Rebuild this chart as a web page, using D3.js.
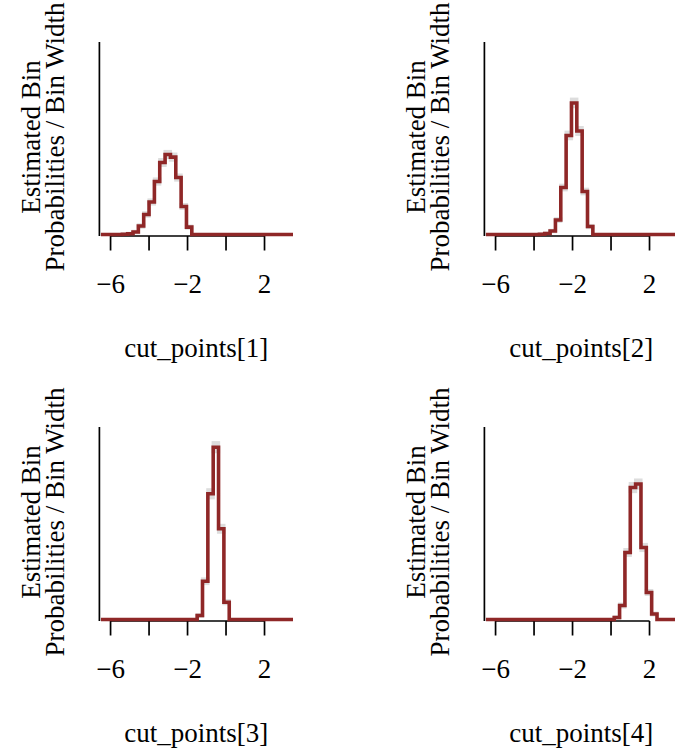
<!DOCTYPE html>
<html><head><meta charset="utf-8">
<script src="https://cdn.jsdelivr.net/npm/d3@7"></script>
<style>body{margin:0;background:#fff;overflow:hidden} svg{display:block}</style>
</head><body>
<script>
// ---- data ----
const panelNames = ["cut_points[1]", "cut_points[2]", "cut_points[3]", "cut_points[4]"];
const xTicks = [-6, -4, -2, 0, 2];
const xTickLabels = ["\u22126", "", "\u22122", "", "2"]; // overlapping labels dropped as in R
const xLimits = [-6.58, 3.48];     // plot region
const binRange = [-6.5, 3.5];      // histogram range
const binCount = 36;
const yMax = 1.545;
// estimated bin probabilities / bin width (36 bins over binRange)
const dens1 = [0,0,0,0,0.002,0.006,0.02,0.068,0.161,0.261, 0.425,0.578,0.642,0.621,0.457,0.225,0.059,0,0,0, 0,0,0,0,0,0,0,0,0,0, 0,0,0,0,0,0];
const dens2 = [0,0,0,0,0,0,0,0,0,0, 0.002,0.008,0.028,0.116,0.377,0.795,1.056,0.831,0.345,0.064, 0,0,0,0,0,0,0,0,0,0, 0,0,0,0,0,0];
const dens3 = [0,0,0,0,0,0,0,0,0,0, 0,0,0,0,0,0,0,0,0.032,0.307, 1.009,1.383,0.728,0.139,0,0,0,0,0,0, 0,0,0,0,0,0];
const dens4 = [0,0,0,0,0,0,0,0,0,0, 0,0,0,0,0,0,0,0,0,0, 0,0,0,0,0.016,0.112,0.538,1.059,1.087,0.578, 0.217,0.044,0,0,0,0];
// Monte Carlo error half-widths (grey bands)
const err1 = [0,0,0,0,0.002,0.003,0.005,0.009,0.013,0.016, 0.02,0.023,0.024,0.024,0.02,0.015,0.008,0,0,0, 0,0,0,0,0,0,0,0,0,0, 0,0,0,0,0,0];
const err2 = [0,0,0,0,0,0,0,0,0,0, 0.002,0.003,0.005,0.01,0.018,0.026,0.03,0.027,0.018,0.008, 0,0,0,0,0,0,0,0,0,0, 0,0,0,0,0,0];
const err3 = [0,0,0,0,0,0,0,0,0,0, 0,0,0,0,0,0,0,0,0.006,0.018, 0.032,0.036,0.027,0.012,0,0,0,0,0,0, 0,0,0,0,0,0];
const err4 = [0,0,0,0,0,0,0,0,0,0, 0,0,0,0,0,0,0,0,0,0, 0,0,0,0,0.004,0.011,0.023,0.032,0.032,0.024, 0.015,0.007,0,0,0,0];
const allDens = [dens1, dens2, dens3, dens4];
const allErr = [err1, err2, err3, err4];

// ---- layout ----
const W = 675, H = 749;
const cell = 385;
const plotL = 99.4, plotR = 293, plotT = 42, plotB = 234.5;
const font = "'Liberation Serif', 'Times New Roman', serif";
const fontSize = 27;
const dark = "#8F2727";

const svg = d3.select("body").append("svg").attr("width", W).attr("height", H);

const x = d3.scaleLinear().domain(xLimits).range([plotL, plotR]);
const y = d3.scaleLinear().domain([0, yMax]).range([plotB, plotT]);
const binW = (binRange[1] - binRange[0]) / binCount;

panelNames.forEach((name, p) => {
  const col = p % 2, row = Math.floor(p / 2);
  const g = svg.append("g").attr("transform", `translate(${col * cell},${row * cell})`);
  const clipId = "clip" + p, figClip = "fig" + p;
  g.append("clipPath").attr("id", clipId).append("rect")
    .attr("x", plotL).attr("y", 0).attr("width", plotR - plotL).attr("height", plotB + 10);
  g.append("clipPath").attr("id", figClip).append("rect")
    .attr("x", 0).attr("y", 0).attr("width", cell).attr("height", cell);

  const dens = allDens[p], err = allErr[p];
  const bins = dens.map((d, i) => ({ x0: binRange[0] + i * binW, x1: binRange[0] + (i + 1) * binW, d, e: err[i] }));

  // grey error bands
  const band = g.append("g").attr("clip-path", `url(#${clipId})`);
  bins.filter(b => b.e > 0).forEach(b => {
    band.append("rect")
      .attr("x", x(b.x0) - 1.6).attr("width", x(b.x1) - x(b.x0) + 3.2)
      .attr("y", y(b.d + b.e) - 1.6).attr("height", Math.max(0, y(b.d - b.e) - y(b.d + b.e)) + 3.2)
      .attr("fill", "#DDDDDD");
  });

  // axes
  g.append("line").attr("x1", plotL).attr("x2", plotL).attr("y1", plotT).attr("y2", plotB + 1.5)
    .attr("stroke", "#000").attr("stroke-width", 1.7);
  const axY = 236;
  g.append("line").attr("x1", x(xTicks[0])).attr("x2", x(xTicks[xTicks.length - 1]))
    .attr("y1", axY).attr("y2", axY).attr("stroke", "#000").attr("stroke-width", 1.7);
  xTicks.forEach((t, i) => {
    g.append("line").attr("x1", x(t)).attr("x2", x(t)).attr("y1", axY).attr("y2", axY + 14.5)
      .attr("stroke", "#000").attr("stroke-width", 1.7);
    if (xTickLabels[i]) {
      g.append("text").attr("x", x(t)).attr("y", 293).attr("text-anchor", "middle")
        .attr("font-family", font).attr("font-size", fontSize).text(xTickLabels[i]);
    }
  });

  // step line
  const pts = [];
  bins.forEach(b => { pts.push([b.x0, b.d]); pts.push([b.x1, b.d]); });
  const line = d3.line().x(d => x(d[0])).y(d => y(d[1]));
  g.append("path").attr("d", line(pts)).attr("fill", "none").attr("stroke", dark)
    .attr("stroke-width", 3.6).attr("stroke-linejoin", "miter").attr("clip-path", `url(#${clipId})`);

  // labels
  g.append("text").attr("x", (plotL + plotR) / 2).attr("y", 357).attr("text-anchor", "middle")
    .attr("font-family", font).attr("font-size", fontSize).text(name);
  const yl = g.append("g").attr("clip-path", `url(#${figClip})`);
  [["Estimated Bin", 40], ["Probabilities / Bin Width", 64]].forEach(([txt, bx]) => {
    yl.append("text").attr("transform", `translate(${bx},137) rotate(-90)`).attr("text-anchor", "middle")
      .attr("font-family", font).attr("font-size", fontSize).text(txt);
  });
});
</script>
</body></html>
